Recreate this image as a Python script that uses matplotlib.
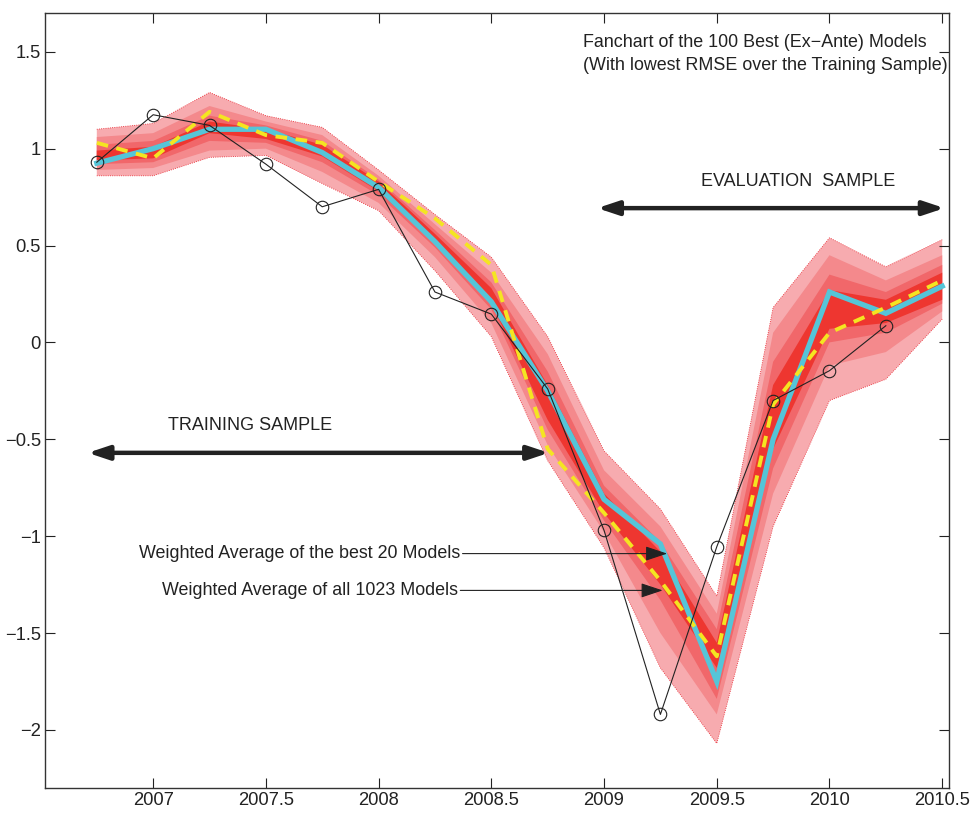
import matplotlib.pyplot as plt
from matplotlib.patches import FancyArrowPatch

plt.rcParams['font.family'] = ['Liberation Sans', 'DejaVu Sans']

# quarterly dates
quarters = [2006.75, 2007.0, 2007.25, 2007.5, 2007.75, 2008.0, 2008.25, 2008.5,
            2008.75, 2009.0, 2009.25, 2009.5, 2009.75, 2010.0, 2010.25, 2010.5]

# fan bands (outer -> inner)
band1_hi = [1.10, 1.13, 1.29, 1.17, 1.11, 0.89, 0.66, 0.44, 0.03, -0.56, -0.86, -1.31, 0.18, 0.54, 0.39, 0.53]
band1_lo = [0.86, 0.86, 0.955, 0.965, 0.82, 0.68, 0.37, 0.03, -0.61, -1.06, -1.68, -2.07, -0.95, -0.30, -0.19, 0.12]
band2_hi = [1.06, 1.08, 1.22, 1.14, 1.07, 0.86, 0.61, 0.36, -0.06, -0.66, -0.95, -1.40, 0.05, 0.45, 0.32, 0.45]
band2_lo = [0.89, 0.90, 0.99, 1.00, 0.88, 0.72, 0.44, 0.10, -0.53, -0.98, -1.50, -1.92, -0.78, -0.12, -0.05, 0.16]
band3_hi = [1.02, 1.04, 1.17, 1.12, 1.04, 0.84, 0.58, 0.31, -0.15, -0.74, -1.03, -1.48, -0.10, 0.35, 0.26, 0.40]
band3_lo = [0.92, 0.93, 1.04, 1.03, 0.93, 0.76, 0.49, 0.17, -0.45, -0.92, -1.33, -1.84, -0.65, 0.00, 0.05, 0.20]
band4_hi = [0.99, 1.01, 1.14, 1.10, 1.02, 0.83, 0.56, 0.28, -0.22, -0.78, -1.08, -1.55, -0.22, 0.27, 0.22, 0.36]
band4_lo = [0.94, 0.95, 1.08, 1.05, 0.96, 0.78, 0.51, 0.20, -0.40, -0.88, -1.25, -1.68, -0.55, 0.07, 0.10, 0.22]

# weighted averages
best20 = [0.925, 1.00, 1.10, 1.10, 0.98, 0.80, 0.52, 0.21, -0.25, -0.81, -1.04, -1.75, -0.50, 0.26, 0.15, 0.29]
all1023 = [1.03, 0.95, 1.19, 1.07, 1.03, 0.83, 0.64, 0.40, -0.55, -0.88, -1.23, -1.62, -0.32, 0.05, 0.18, 0.32]

# actual outcome
actual_x = quarters[:15]
actual = [0.93, 1.175, 1.12, 0.92, 0.70, 0.79, 0.26, 0.146, -0.24, -0.97, -1.92, -1.055, -0.30, -0.146, 0.086]

band_colors = ["#f7abaf", "#f4898c", "#f1676a", "#ee3630"]
bands = [(band1_lo, band1_hi), (band2_lo, band2_hi), (band3_lo, band3_hi), (band4_lo, band4_hi)]

fig = plt.figure(figsize=(9.73, 8.14), dpi=100)
ax = fig.add_axes([0.0462, 0.0319, 0.9291, 0.9521])

for (lo, hi), col in zip(bands, band_colors):
    ax.fill_between(quarters, lo, hi, facecolor=col, edgecolor="none", zorder=1)
ax.plot(quarters, band1_hi, color="#e8202a", ls=":", lw=0.6, zorder=1.5)
ax.plot(quarters, band1_lo, color="#e8202a", ls=":", lw=0.6, zorder=1.5)

ax.plot(actual_x, actual, color="#222222", lw=0.8, marker="o", ms=9,
        mfc="none", mec="#222222", mew=0.8, zorder=4)
ax.plot(quarters, best20, color="#55c5d8", lw=3.8, zorder=2, solid_joinstyle="miter")
ax.plot(quarters, all1023, color="#f4e521", lw=2.8, ls=(0, (3, 2.2)), zorder=3)

# text annotations
ax.text(2008.905, 1.49, "Fanchart of the 100 Best (Ex\u2212Ante) Models\n(With lowest RMSE over the Training Sample)",
        fontsize=12.9, color="#222222", ha="left", va="center", linespacing=1.45)
ax.text(2009.86, 0.83, "EVALUATION  SAMPLE", fontsize=13, color="#222222", ha="center", va="center")
ax.text(2007.43, -0.43, "TRAINING SAMPLE", fontsize=13, color="#222222", ha="center", va="center")

for (x0, x1, y) in [(2008.97, 2010.51, 0.693), (2006.71, 2008.755, -0.57)]:
    ax.add_patch(FancyArrowPatch((x0, y), (x1, y), arrowstyle="<|-|>,head_length=0.9,head_width=0.3",
                                 color="#222222", lw=3.2, mutation_scale=14, shrinkA=0, shrinkB=0, zorder=5))

ax.annotate("Weighted Average of the best 20 Models", xy=(2009.28, -1.09), xytext=(2008.36, -1.09),
            fontsize=12.9, color="#222222", ha="right", va="center",
            arrowprops=dict(arrowstyle="-|>,head_length=0.9,head_width=0.3", color="#222222",
                            lw=0.8, mutation_scale=15, shrinkA=0, shrinkB=0), zorder=6)
ax.annotate("Weighted Average of all 1023 Models", xy=(2009.26, -1.28), xytext=(2008.35, -1.28),
            fontsize=12.9, color="#222222", ha="right", va="center",
            arrowprops=dict(arrowstyle="-|>,head_length=0.9,head_width=0.3", color="#222222",
                            lw=0.8, mutation_scale=15, shrinkA=0, shrinkB=0), zorder=6)

# axes styling (matlab-like)
xticks = [2007, 2007.5, 2008, 2008.5, 2009, 2009.5, 2010, 2010.5]
yticks = [-2, -1.5, -1, -0.5, 0, 0.5, 1, 1.5]
ax.set_xlim(2006.52, 2010.53)
ax.set_ylim(-2.3, 1.7)
ax.set_xticks(xticks)
ax.set_xticklabels(["%g" % t for t in xticks])
ax.set_yticks(yticks)
ax.set_yticklabels([("%g" % t).replace("-", "\u2212") for t in yticks])
ax.tick_params(direction="in", length=7, width=0.8, top=True, right=True,
               labelsize=13.2, colors="#222222", pad=3)
for sp in ax.spines.values():
    sp.set_color("#333333")
    sp.set_linewidth(1.0)

fig.savefig("out.png", dpi=100)
